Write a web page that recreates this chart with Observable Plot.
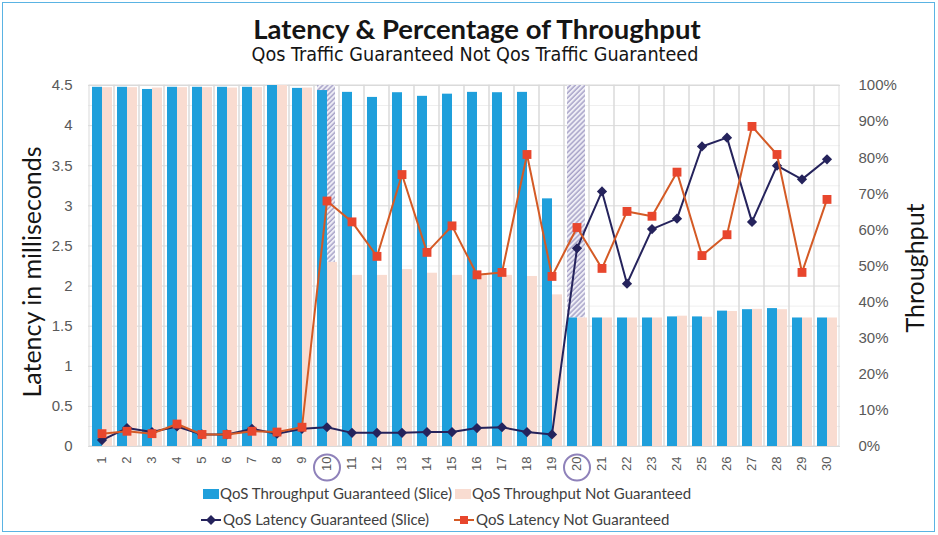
<!DOCTYPE html>
<html><head><meta charset="utf-8">
<script src="https://cdn.jsdelivr.net/npm/d3@7"></script>
<script src="https://cdn.jsdelivr.net/npm/@observablehq/plot@0.6"></script>
<style>
html,body{margin:0;padding:0;background:#fff;}
body{width:938px;height:535px;position:relative;overflow:hidden;font-family:Lato,"Liberation Sans",sans-serif;}
#frame{position:absolute;left:2px;top:2px;width:933px;height:530px;border:1.5px solid #5ab3e3;box-sizing:border-box;pointer-events:none;}
#title{position:absolute;top:13px;left:8px;width:938px;text-align:center;font-family:Lato,sans-serif;font-weight:bold;font-size:27.5px;line-height:32px;color:#151515;}
#subtitle{position:absolute;top:42px;left:6px;width:938px;text-align:center;font-family:"Liberation Sans Narrow","DejaVu Sans Condensed","Open Sans",sans-serif;font-stretch:condensed;font-size:19.6px;line-height:26px;color:#151515;}
#chart{position:absolute;top:70px;left:0;}
.lg{position:absolute;font-family:Lato,"Liberation Sans",sans-serif;font-size:15px;line-height:18px;color:#404040;white-space:nowrap;}
.sw{display:inline-block;width:16px;height:10px;margin-right:1px;vertical-align:0px;}
.lsw{display:inline-block;vertical-align:-1px;margin-right:2px;}
</style>
</head><body>
<svg width="0" height="0" style="position:absolute">
  <defs>
    <pattern id="hatch" patternUnits="userSpaceOnUse" width="3.5" height="3.5" patternTransform="rotate(45)">
      <rect width="3.5" height="3.5" fill="#eeedf5"></rect>
      <line x1="1" y1="0" x2="1" y2="3.5" stroke="#9893bf" stroke-width="1.2"></line>
    </pattern>
  </defs>
</svg>
<div id="frame"></div>
<div id="title">Latency &amp; Percentage of Throughput</div>
<div id="subtitle">Qos Traffic Guaranteed Not Qos Traffic Guaranteed</div>
<div id="chart"></div>
<div class="lg" style="left:203px;top:484px"><span class="sw" style="background:#1f9fdb"></span>QoS Throughput Guaranteed (Slice)</div>
<div class="lg" style="left:455px;top:484px"><span class="sw" style="background:#f9dcd1"></span>QoS Throughput Not Guaranteed</div>
<div class="lg" style="left:201px;top:510px"><svg class="lsw" width="20" height="12"><line x1="0" y1="6" x2="20" y2="6" stroke="#25235c" stroke-width="2"></line><path d="M10,1L15,6L10,11L5,6Z" fill="#25235c"></path></svg>QoS Latency Guaranteed (Slice)</div>
<div class="lg" style="left:454px;top:510px"><svg class="lsw" width="20" height="12"><line x1="0" y1="6" x2="20" y2="6" stroke="#d45a25" stroke-width="2"></line><rect x="6" y="2" width="8" height="8" fill="#e8462d"></rect></svg>QoS Latency Not Guaranteed</div>
<script>
const categories = [1,2,3,4,5,6,7,8,9,10,11,12,13,14,15,16,17,18,19,20,21,22,23,24,25,26,27,28,29,30];
// Throughput, percent (right axis)
const guaranteedThroughput = [99.5,99.5,98.9,99.5,99.5,99.5,99.5,100,99.2,98.6,98.1,96.7,98.0,97.0,97.6,98.1,98.0,98.1,68.6,35.6,35.6,35.6,35.6,35.9,35.9,37.5,37.9,38.2,35.6,35.6];
const notGuaranteedThroughput = [99.4,99.4,99.3,99.4,99.4,99.3,99.4,100,99.3,51.0,47.4,47.4,49.0,48.0,47.4,47.4,47.4,47.1,42.0,35.6,35.6,35.6,35.6,36.1,35.8,37.4,38.0,37.9,35.6,35.6];
// Latency, milliseconds (left axis)
const guaranteedLatency = [0.08,0.23,0.18,0.25,0.15,0.15,0.22,0.16,0.22,0.24,0.17,0.17,0.17,0.18,0.18,0.23,0.24,0.18,0.15,2.47,3.18,2.03,2.71,2.84,3.74,3.85,2.80,3.50,3.33,3.58];
const notGuaranteedLatency = [0.16,0.19,0.16,0.28,0.15,0.15,0.19,0.18,0.24,3.06,2.80,2.37,3.39,2.42,2.75,2.14,2.17,3.64,2.12,2.73,2.22,2.93,2.87,3.42,2.38,2.64,3.99,3.64,2.17,3.08];
// Hatched "lost throughput" markers
const hatchCategories = [10, 20];
const hatchFrom = [51.0, 35.6];
const hatchTo = [100, 100];
const circledCategories = [10, 20];
// Ticks
const leftTicks = [0,0.5,1,1.5,2,2.5,3,3.5,4,4.5];
const minorTicks = [0.25,0.75,1.25,1.75,2.25,2.75,3.25,3.75,4.25];
const rightTicks = [0,10,20,30,40,50,60,70,80,90,100];

const pct = p => p * 4.5 / 100;
const rows = categories.map((c, i) => ({c, g: guaranteedThroughput[i], n: notGuaranteedThroughput[i], lg: guaranteedLatency[i], ln: notGuaranteedLatency[i]}));
const hatch = hatchCategories.map((c, i) => ({c, from: hatchFrom[i], to: hatchTo[i]}));

const chart = Plot.plot({
  width: 938, height: 412,
  marginTop: 15, marginBottom: 36, marginLeft: 88, marginRight: 98,
  x: {type: "band", domain: categories, padding: 0},
  y: {domain: [0, 4.5]},
  style: {fontFamily: "'Liberation Sans', Arial, sans-serif", color: "#595959", background: "transparent", overflow: "visible"},
  marks: [
    Plot.ruleY(minorTicks, {stroke: "#efefef", strokeWidth: 1}),
    Plot.ruleY(leftTicks, {stroke: "#dadada", strokeWidth: 1}),
    Plot.barY(categories, {x: d => d, y1: 0, y2: 4.5, fill: "none", stroke: "#dadada", strokeWidth: 1}),
    Plot.barY(hatch, {x: "c", y1: d => pct(d.from), y2: d => pct(d.to), fill: "url(#hatch)", insetLeft: 3, insetRight: 4}),
    Plot.barY(rows, {x: "c", y: d => pct(d.g), fill: "#1f9fdb", insetLeft: 3, insetRight: 12}),
    Plot.barY(rows, {x: "c", y: d => pct(d.n), fill: "#f9dcd1", insetLeft: 13, insetRight: 2}),
    Plot.line(rows, {x: "c", y: "lg", stroke: "#25235c", strokeWidth: 2}),
    Plot.dot(rows, {x: "c", y: "lg", symbol: "diamond2", r: 4.6, fill: "#25235c"}),
    Plot.line(rows, {x: "c", y: "ln", stroke: "#d45a25", strokeWidth: 2}),
    Plot.dot(rows, {x: "c", y: "ln", symbol: "square", r: 5, fill: "#e8462d"}),
    Plot.axisX({tickRotate: -90, tickSize: 0, tickPadding: 10, fontSize: 13, label: null}),
    Plot.axisY(leftTicks, {anchor: "left", tickSize: 0, tickPadding: 16, fontSize: 15, tickFormat: d => String(d), label: null}),
    Plot.axisY(rightTicks.map(pct), {anchor: "right", tickSize: 0, tickPadding: 18, fontSize: 15, tickFormat: v => Math.round(v * 100 / 4.5) + "%", label: null, textAnchor: "start"}),
    Plot.dot(circledCategories, {x: d => d, frameAnchor: "bottom", dy: 21, r: 13, stroke: "#8f82ba", strokeWidth: 2, fill: "none"}),
    Plot.text(["Latency in milliseconds"], {frameAnchor: "left", textAnchor: "middle", dx: -56, dy: 6, rotate: -90, fontSize: 25, fill: "#151515", fontFamily: "Lato, sans-serif"}),
    Plot.text(["Throughput"], {frameAnchor: "right", textAnchor: "middle", dx: 75, dy: 2, rotate: -90, fontSize: 25, fill: "#151515", fontFamily: "Lato, sans-serif"})
  ]
});
document.getElementById("chart").appendChild(chart);
</script>
</body></html>
